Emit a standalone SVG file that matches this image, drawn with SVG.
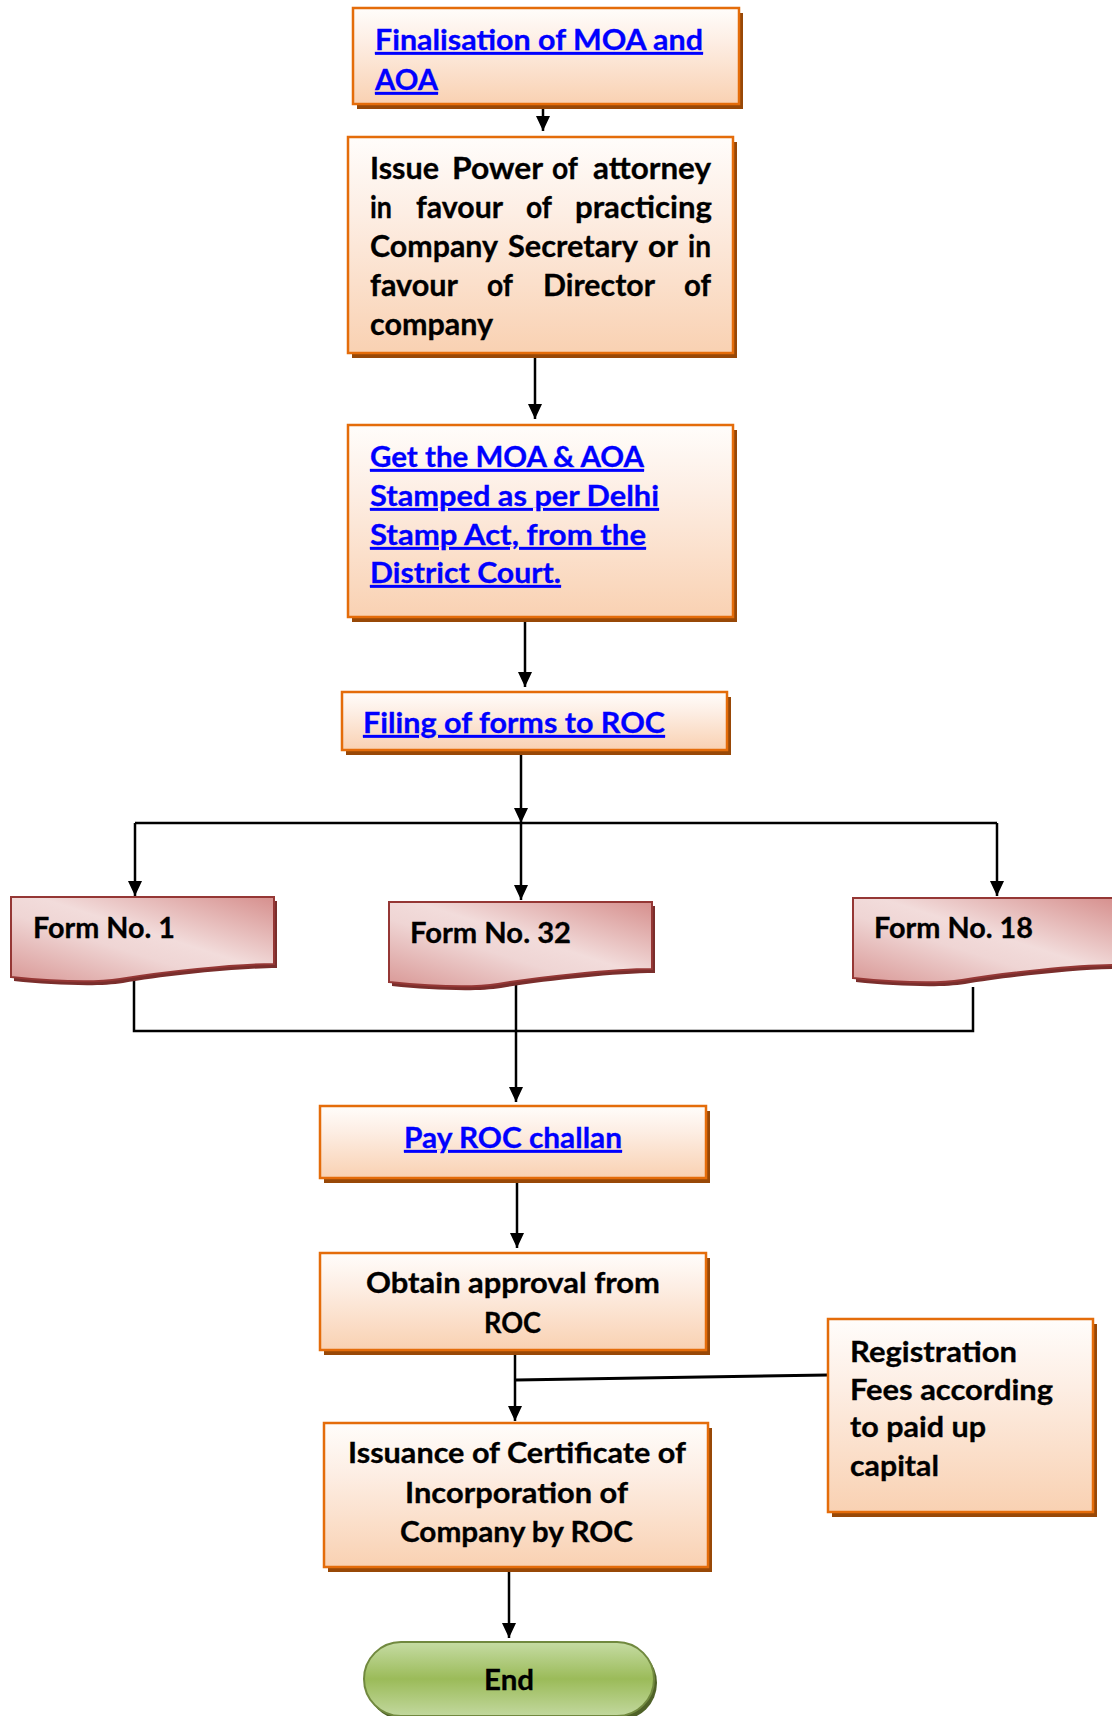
<svg xmlns="http://www.w3.org/2000/svg" xmlns:xlink="http://www.w3.org/1999/xlink" width="1112" height="1716" viewBox="0 0 1112 1716">
<defs>
<linearGradient id="gOrange" x1="0" y1="0" x2="0" y2="1">
<stop offset="0" stop-color="#fffdfb"/>
<stop offset="0.35" stop-color="#fdeee4"/>
<stop offset="1" stop-color="#f9d1b2"/>
</linearGradient>
<linearGradient id="gForm" x1="1" y1="0" x2="0" y2="1">
<stop offset="0" stop-color="#d68f8d"/>
<stop offset="0.45" stop-color="#f2dcdb"/>
<stop offset="0.6" stop-color="#efd5d4"/>
<stop offset="1" stop-color="#d99896"/>
</linearGradient>
<linearGradient id="gGreen" x1="0" y1="0" x2="0" y2="1">
<stop offset="0" stop-color="#c6dca4"/>
<stop offset="0.5" stop-color="#9bbb59"/>
<stop offset="1" stop-color="#c2d89e"/>
</linearGradient>
<path id="formShape" d="M0,0 H263 V67 C224,67 149,75 109,82 C84,86 39,84 0,80 Z"/>
<marker id="ah" markerUnits="userSpaceOnUse" markerWidth="15" markerHeight="14" refX="15" refY="7" viewBox="0 0 15 14" orient="auto">
<path d="M0,0 L15,7 L0,14 Z" fill="#000"/>
</marker>
<style>
.box{fill:url(#gOrange);stroke:#e46c0a;stroke-width:2.5}
.shadow{fill:#984807}
.form{fill:url(#gForm);stroke:#953735;stroke-width:2}
.fshadow{fill:#7a2e2c}
.t{font-family:Lato,'Open Sans',sans-serif;font-weight:700;font-size:28px;fill:#000;stroke:#000;stroke-width:0.3}
.link{fill:#0000ff;stroke:#0000ff;text-decoration:underline}
.w{font-size:30px}
.conn{stroke:#000;stroke-width:2.5;fill:none}
.arr{marker-end:url(#ah)}
</style>
</defs>
<rect width="1112" height="1716" fill="#ffffff"/>

<g id="connectors">
<path class="conn arr" d="M543,104 V131"/>
<path class="conn arr" d="M535,350 V419"/>
<path class="conn arr" d="M525,619 V687"/>
<path class="conn arr" d="M521,752 V823"/>
<path class="conn" d="M135,823 H997"/>
<path class="conn arr" d="M135,823 V896"/>
<path class="conn arr" d="M521,823 V900"/>
<path class="conn arr" d="M997,823 V896"/>
<path class="conn" d="M134,978 V1031 H973 V987"/>
<path class="conn arr" d="M516,985 V1102"/>
<path class="conn arr" d="M517,1178 V1248"/>
<path class="conn arr" d="M515,1350 V1421"/>
<path class="conn" style="stroke-width:3" d="M828,1375 L516,1380"/>
<path class="conn arr" d="M509,1567 V1638"/>
</g>

<g id="n_finalisation">
<rect class="shadow" x="357" y="13" width="386" height="96"/>
<rect class="box" x="353" y="8" width="386" height="96"/>
<text class="t link" x="375" y="50" textLength="328" lengthAdjust="spacingAndGlyphs">Finalisation of MOA and</text>
<text class="t link" x="375" y="90" textLength="63" lengthAdjust="spacingAndGlyphs">AOA</text>
</g>

<g id="n_power_of_attorney">
<rect class="shadow" x="352" y="142" width="385" height="216"/>
<rect class="box" x="348" y="137" width="385" height="216"/>
<text class="t w" x="370" y="179" textLength="69" lengthAdjust="spacingAndGlyphs">Issue</text>
<text class="t w" x="452" y="179" textLength="91" lengthAdjust="spacingAndGlyphs">Power</text>
<text class="t w" x="552" y="179" textLength="26" lengthAdjust="spacingAndGlyphs">of</text>
<text class="t w" x="593" y="179" textLength="118" lengthAdjust="spacingAndGlyphs">attorney</text>
<text class="t w" x="370" y="218" textLength="22" lengthAdjust="spacingAndGlyphs">in</text>
<text class="t w" x="416" y="218" textLength="87" lengthAdjust="spacingAndGlyphs">favour</text>
<text class="t w" x="526" y="218" textLength="26" lengthAdjust="spacingAndGlyphs">of</text>
<text class="t w" x="575" y="218" textLength="137" lengthAdjust="spacingAndGlyphs">practicing</text>
<text class="t w" x="370" y="257" textLength="128" lengthAdjust="spacingAndGlyphs">Company</text>
<text class="t w" x="508" y="257" textLength="130" lengthAdjust="spacingAndGlyphs">Secretary</text>
<text class="t w" x="648" y="257" textLength="30" lengthAdjust="spacingAndGlyphs">or</text>
<text class="t w" x="688" y="257" textLength="23" lengthAdjust="spacingAndGlyphs">in</text>
<text class="t w" x="370" y="296" textLength="88" lengthAdjust="spacingAndGlyphs">favour</text>
<text class="t w" x="487" y="296" textLength="26" lengthAdjust="spacingAndGlyphs">of</text>
<text class="t w" x="543" y="296" textLength="112" lengthAdjust="spacingAndGlyphs">Director</text>
<text class="t w" x="684" y="296" textLength="27" lengthAdjust="spacingAndGlyphs">of</text>
<text class="t w" x="370" y="335" textLength="123" lengthAdjust="spacingAndGlyphs">company</text>
</g>

<g id="n_stamp">
<rect class="shadow" x="352" y="430" width="385" height="192"/>
<rect class="box" x="348" y="425" width="385" height="192"/>
<text class="t link" x="370" y="467" textLength="274" lengthAdjust="spacingAndGlyphs">Get the MOA &amp; AOA</text>
<text class="t link" x="370" y="506" textLength="289" lengthAdjust="spacingAndGlyphs">Stamped as per Delhi</text>
<text class="t link" x="370" y="545" textLength="276" lengthAdjust="spacingAndGlyphs">Stamp Act, from the</text>
<text class="t link" x="370" y="583" textLength="191" lengthAdjust="spacingAndGlyphs">District Court.</text>
</g>

<g id="n_filing">
<rect class="shadow" x="346" y="697" width="385" height="58"/>
<rect class="box" x="342" y="692" width="385" height="58"/>
<text class="t link" x="363" y="733" textLength="302" lengthAdjust="spacingAndGlyphs">Filing of forms to ROC</text>
</g>

<g id="n_form1">
<use href="#formShape" class="fshadow" transform="translate(14,901)"/>
<use href="#formShape" class="form" transform="translate(11,897)"/>
<text class="t" x="33" y="938" textLength="142" lengthAdjust="spacingAndGlyphs">Form No. 1</text>
</g>

<g id="n_form32">
<use href="#formShape" class="fshadow" transform="translate(392,906)"/>
<use href="#formShape" class="form" transform="translate(389,902)"/>
<text class="t" x="410" y="943" textLength="161" lengthAdjust="spacingAndGlyphs">Form No. 32</text>
</g>

<g id="n_form18">
<use href="#formShape" class="fshadow" transform="translate(856,902)"/>
<use href="#formShape" class="form" transform="translate(853,898)"/>
<text class="t" x="874" y="938" textLength="159" lengthAdjust="spacingAndGlyphs">Form No. 18</text>
</g>

<g id="n_pay_challan">
<rect class="shadow" x="324" y="1111" width="386" height="72"/>
<rect class="box" x="320" y="1106" width="386" height="72"/>
<text class="t link" x="404" y="1148" textLength="218" lengthAdjust="spacingAndGlyphs">Pay ROC challan</text>
</g>

<g id="n_obtain_approval">
<rect class="shadow" x="324" y="1258" width="386" height="97"/>
<rect class="box" x="320" y="1253" width="386" height="97"/>
<text class="t" x="366" y="1293" textLength="294" lengthAdjust="spacingAndGlyphs">Obtain approval from</text>
<text class="t" x="484" y="1333" textLength="57" lengthAdjust="spacingAndGlyphs">ROC</text>
</g>

<g id="n_registration_fees">
<rect class="shadow" x="832" y="1324" width="265" height="193"/>
<rect class="box" x="828" y="1319" width="265" height="193"/>
<text class="t" x="850" y="1362" textLength="167" lengthAdjust="spacingAndGlyphs">Registration</text>
<text class="t" x="850" y="1400" textLength="203" lengthAdjust="spacingAndGlyphs">Fees according</text>
<text class="t" x="850" y="1437" textLength="136" lengthAdjust="spacingAndGlyphs">to paid up</text>
<text class="t" x="850" y="1476" textLength="89" lengthAdjust="spacingAndGlyphs">capital</text>
</g>

<g id="n_certificate">
<rect class="shadow" x="328" y="1428" width="384" height="144"/>
<rect class="box" x="324" y="1423" width="384" height="144"/>
<text class="t" x="348" y="1463" textLength="338" lengthAdjust="spacingAndGlyphs">Issuance of Certificate of</text>
<text class="t" x="405" y="1503" textLength="223" lengthAdjust="spacingAndGlyphs">Incorporation of</text>
<text class="t" x="400" y="1542" textLength="233" lengthAdjust="spacingAndGlyphs">Company by ROC</text>
</g>

<g id="n_end">
<rect x="367" y="1646" width="290" height="74" rx="37" fill="#4f6228"/>
<rect x="364" y="1642" width="290" height="74" rx="37" fill="url(#gGreen)" stroke="#71893f" stroke-width="2"/>
<text class="t" x="509" y="1690" text-anchor="middle" textLength="50" lengthAdjust="spacingAndGlyphs">End</text>
</g>
</svg>
